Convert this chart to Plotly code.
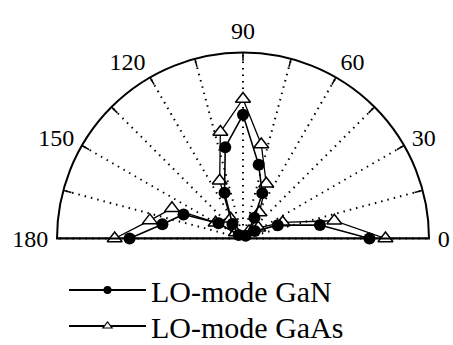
import plotly.graph_objects as go

# Data (normalized radius, angle in degrees)
gan_theta = [0, 10, 21, 32, 45, 61, 67, 78, 90, 101, 112, 126, 141, 148, 158, 170, 180]
gan_r = [0.68, 0.42, 0.20, 0.075, 0.02, 0.127, 0.265, 0.405, 0.665, 0.50, 0.265, 0.097, 0.03, 0.155, 0.345, 0.44, 0.61]

gaas_theta = [0, 11, 22, 35, 50, 58, 67, 79, 90, 102, 112, 122, 140, 150, 157, 169, 180]
gaas_r = [0.766, 0.50, 0.23, 0.10, 0.05, 0.165, 0.32, 0.515, 0.75, 0.585, 0.335, 0.125, 0.05, 0.17, 0.415, 0.51, 0.69]

tick_vals = list(range(0, 181, 15))
tick_text = [str(v) if v % 30 == 0 else "" for v in tick_vals]

FONT = "Liberation Serif"

fig = go.Figure()

# baseline (0 - 180 diameter)
fig.add_trace(go.Scatterpolar(r=[1, 0, 1], theta=[0, 0, 180], mode="lines",
                              line=dict(color="black", width=2),
                              showlegend=False, hoverinfo="skip"))

# inward tick marks on the outer arc
for v in tick_vals[1:-1]:
    fig.add_trace(go.Scatterpolar(r=[1.0, 0.955], theta=[v, v], mode="lines",
                                  line=dict(color="black", width=1.5),
                                  showlegend=False, hoverinfo="skip"))

fig.add_trace(go.Scatterpolar(r=gaas_r, theta=gaas_theta, mode="lines+markers",
                              line=dict(color="black", width=1.3),
                              marker=dict(symbol="triangle-up", size=13, color="white",
                                          line=dict(color="black", width=1.5)),
                              showlegend=False))
fig.add_trace(go.Scatterpolar(r=gan_r, theta=gan_theta, mode="lines+markers",
                              line=dict(color="black", width=1.6),
                              marker=dict(symbol="circle", size=12, color="black"),
                              showlegend=False))

# legend entries
fig.add_trace(go.Scatterpolar(r=[None], theta=[None], mode="lines+markers", name="LO-mode GaN",
                              line=dict(color="black", width=2),
                              marker=dict(symbol="circle", size=8, color="black"),
                              legend="legend"))
fig.add_trace(go.Scatterpolar(r=[None], theta=[None], mode="lines+markers", name="LO-mode GaAs",
                              line=dict(color="black", width=2),
                              marker=dict(symbol="triangle-up", size=8, color="white",
                                          line=dict(color="black", width=1.2)),
                              legend="legend2"))

leg_common = dict(x=64 / 453, xanchor="left", yanchor="middle",
                  font=dict(family=FONT, size=30, color="black"),
                  itemwidth=77, bgcolor="rgba(0,0,0,0)")

fig.update_layout(
    width=453, height=345,
    margin=dict(l=0, r=0, t=0, b=0, autoexpand=False),
    paper_bgcolor="white",
    font=dict(family=FONT, color="black", size=24),
    polar=dict(
        domain=dict(x=[57 / 453, 429 / 453], y=[(345 - 238.5) / 345, (345 - 52.5) / 345]),
        sector=[0, 180],
        bgcolor="white",
        radialaxis=dict(range=[0, 1], visible=False),
        angularaxis=dict(
            tickvals=tick_vals, ticktext=tick_text,
            tickfont=dict(family=FONT, size=24, color="black"),
            showgrid=True, gridcolor="black", gridwidth=1.5, griddash="1.5px,5px",
            showline=True, linecolor="black", linewidth=2,
            ticks="outside", ticklen=3, tickcolor="rgba(0,0,0,0)", tickwidth=1,
        ),
    ),
    legend=dict(y=(345 - 290) / 345, **leg_common),
    legend2=dict(y=(345 - 326) / 345, **leg_common),
)

fig.write_html("out.html")
